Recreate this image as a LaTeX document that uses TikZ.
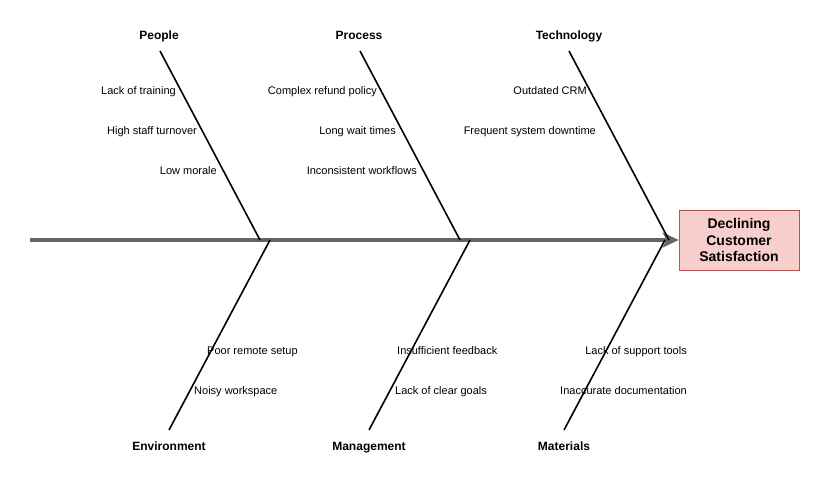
\documentclass[tikz,border=0pt]{standalone}
\usepackage{fontspec}
\setmainfont{Liberation Sans}
\usetikzlibrary{arrows.meta}
\definecolor{spinegray}{HTML}{666666}
\definecolor{headfill}{HTML}{F8CECC}
\definecolor{headdraw}{HTML}{B85450}
\begin{document}
\begin{tikzpicture}[x=1pt,y=-1pt,
  cat/.style={font=\fontsize{12}{14}\selectfont\bfseries, inner sep=0pt, text height=8.6pt, text depth=2.6pt, yshift=-2pt},
  cause/.style={font=\fontsize{11}{13}\selectfont, inner sep=0pt, text height=8pt, text depth=2.4pt, yshift=-2pt},
  bone/.style={line width=1.6pt, black},
  spine/.style={line width=4pt, spinegray, -{Stealth[length=16pt,width=15pt,inset=4pt]}},
  headbox/.style={draw=headdraw, fill=headfill, line width=0.8pt, minimum width=120pt, minimum height=60pt,
    align=center, inner sep=0pt, font=\fontsize{14}{16.8}\selectfont\bfseries}
]
\useasboundingbox (0,0) rectangle (840,500);
% head
\node[headbox] (head) at (739,240) {Declining\\Customer\\Satisfaction};
\coordinate (tail) at (30,240);
\draw[spine] (tail) -- (head.west);

% bone coordinates
\coordinate (p1) at (160,51);  \coordinate (p2) at (260,240);
\coordinate (r1) at (360,51);  \coordinate (r2) at (460,240);
\coordinate (t1) at (569,51);  \coordinate (t2) at (669,240);
\coordinate (e1) at (270,240); \coordinate (e2) at (169,430);
\coordinate (m1) at (470,240); \coordinate (m2) at (369,430);
\coordinate (a1) at (665,240); \coordinate (a2) at (564,430);
\draw[bone] (p1) -- (p2);
\draw[bone] (r1) -- (r2);
\draw[bone] (t1) -- (t2);
\draw[bone] (e1) -- (e2);
\draw[bone] (m1) -- (m2);
\draw[bone] (a1) -- (a2);

% categories
\node[cat] (cp) at (159,35) {People};
\node[cat] (cr) at (359,35) {Process};
\node[cat] (ct) at (569,35) {Technology};
\node[cat] (ce) at (169,445) {Environment};
\node[cat] (cm) at (369,445) {Management};
\node[cat] (ca) at (564,445) {Materials};

% causes upper (right aligned)
\node[cause, anchor=east] (c1) at (176,90) {Lack of training};
\node[cause, anchor=east] (c2) at (197,130) {High staff turnover};
\node[cause, anchor=east] (c3) at (217,170) {Low morale};
\node[cause, anchor=east] (c4) at (377,90) {Complex refund policy};
\node[cause, anchor=east] (c5) at (396,130) {Long wait times};
\node[cause, anchor=east] (c6) at (417,170) {Inconsistent workflows};
\node[cause, anchor=east] (c7) at (587,90) {Outdated CRM};
\node[cause, anchor=east] (c8) at (596,130) {Frequent system downtime};

% causes lower
\node[cause, anchor=west] (d1) at (207,350) {Poor remote setup};
\node[cause, anchor=west] (d2) at (194,390) {Noisy workspace};
\node[cause, anchor=west] (d3) at (397,350) {Insufficient feedback};
\node[cause, anchor=west] (d4) at (395,390) {Lack of clear goals};
\node[cause, anchor=east] (d5) at (687,350) {Lack of support tools};
\node[cause, anchor=east] (d6) at (687,390) {Inaccurate documentation};
\end{tikzpicture}
\end{document}
